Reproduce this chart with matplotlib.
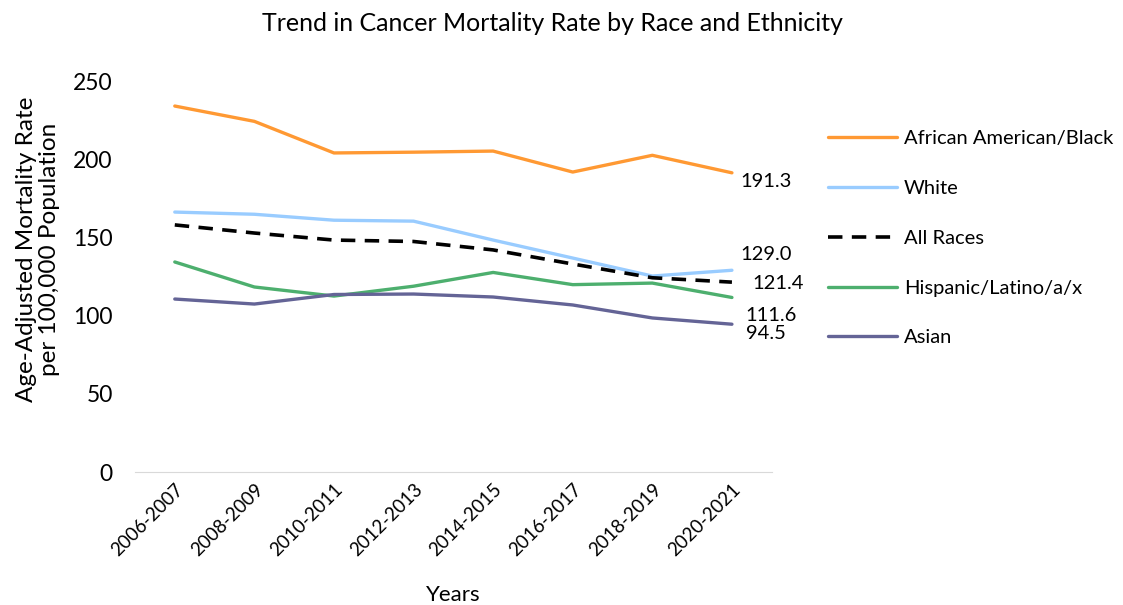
import numpy as np
import matplotlib.pyplot as plt

plt.rcParams['font.family'] = ['Lato', 'DejaVu Sans']

# Data
years = ['2006-2007', '2008-2009', '2010-2011', '2012-2013',
         '2014-2015', '2016-2017', '2018-2019', '2020-2021']
black = [234.0, 224.2, 204.0, 204.5, 205.2, 191.8, 202.5, 191.3]
white = [166.2, 164.8, 161.0, 160.4, 148.3, 136.8, 125.3, 129.0]
all_races = [158.0, 152.8, 148.3, 147.4, 142.0, 133.0, 124.2, 121.4]
hispanic = [134.3, 118.3, 112.5, 118.8, 127.6, 119.8, 120.8, 111.6]
asian = [110.6, 107.4, 113.5, 113.8, 111.9, 106.8, 98.5, 94.5]

labels = ['African American/Black', 'White', 'All Races',
          'Hispanic/Latino/a/x', 'Asian']
colors = ['#FF9933', '#99CCFF', '#000000', '#4DAF6E', '#646496']
series = [black, white, all_races, hispanic, asian]

fig = plt.figure(figsize=(11.23, 6.05), dpi=100)
ax = fig.add_axes([0.1202, 0.2198, 0.567, 0.6463])

x = np.arange(len(years))
for vals, lab, col in zip(series, labels, colors):
    if lab == 'All Races':
        ax.plot(x, vals, color=col, lw=2.6, ls=(0, (4, 2.6)), label=lab)
    else:
        ax.plot(x, vals, color=col, lw=2.4, label=lab, solid_capstyle='round')

# End-point value labels
offsets = [(6, -6), (6, 11), (15, -1), (10, -13), (10, -7)]
for vals, off in zip(series, offsets):
    ax.annotate(f'{vals[-1]:.1f}', xy=(x[-1], vals[-1]), xytext=off,
                textcoords='offset points', fontsize=14.5, va='center', ha='left')

ax.set_xlim(-0.5, len(years) - 0.5)
ax.set_ylim(0, 250)
ax.set_yticks([0, 50, 100, 150, 200, 250])
ax.set_xticks(x)
ax.set_xticklabels(years, rotation=45, ha='right', rotation_mode='anchor', fontsize=13.5)
ax.tick_params(axis='y', labelsize=16.5, length=0, pad=16)
ax.tick_params(axis='x', length=0, pad=6)

for side in ['top', 'right', 'left']:
    ax.spines[side].set_visible(False)
ax.spines['bottom'].set_color('#D9D9D9')

ax.set_title('Trend in Cancer Mortality Rate by Race and Ethnicity', fontsize=18,
             pad=36, x=0.656)
ax.set_xlabel('Years', fontsize=16, labelpad=19)
ax.set_ylabel('Age-Adjusted Mortality Rate\nper 100,000 Population', fontsize=17.5,
              linespacing=1.1)
ax.yaxis.set_label_coords(-0.118, 0.57)

fig.legend(loc='center left', bbox_to_anchor=(0.7285, 0.606), frameon=False,
           fontsize=14.5, handlelength=3.4, handletextpad=0.35, labelspacing=1.62,
           borderpad=0)

plt.savefig('out.png', dpi=100)
